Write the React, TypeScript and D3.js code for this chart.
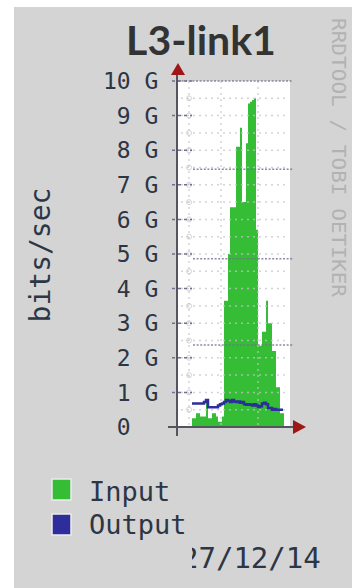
import React from "react";
import * as d3 from "d3";

// ---- data (Gbit/s per sample) ----
const firstSample = 7;
const inputG = [
  0.25, 0.25, 0.4, 0.4, 0.3, 0.3, 0.3, 0.7, 0.25, 0.25, 0.4, 0.4, 0.3, 0.15, 0.15, 0.3,
  3.65, 3.65, 5.0, 6.35, 6.35, 6.35, 8.1, 8.1, 8.65, 6.5, 6.5, 8.2, 9.35, 9.4, 9.45, 9.5,
  5.7, 2.35, 2.35, 2.75, 2.75, 3.65, 3.0, 3.0, 2.2, 2.2, 1.15, 1.15, 0.4, 0.4,
];
const outputG = [
  0.68, 0.68, 0.68, 0.68, 0.68, 0.68, 0.72, 0.78, 0.57, 0.57, 0.57, 0.57, 0.57,
  0.62, 0.66, 0.68, 0.72, 0.78, 0.76, 0.72, 0.78, 0.74, 0.72, 0.74, 0.7, 0.72, 0.66,
  0.64, 0.66, 0.64, 0.62, 0.66, 0.62, 0.58, 0.6, 0.68, 0.7, 0.66, 0.55, 0.55, 0.5,
  0.52, 0.5, 0.5, 0.5, 0.5,
];
const yTickValues = [0, 1, 2, 3, 4, 5, 6, 7, 8, 9, 10];
const yTickLabels = [" 0  ", " 1 G", " 2 G", " 3 G", " 4 G", " 5 G", " 6 G", " 7 G", " 8 G", " 9 G", "10 G"];
const minorGrid = d3.range(0.5, 10, 0.5);
const majorGrid = [2.37, 4.86, 7.45];
const timeGrid = [5.5, 21.5, 40];
const seriesNames = ["Input", "Output"];
const title = "L3-link1";
const yAxisTitle = "bits/sec";
const watermark = "RRDTOOL / TOBI OETIKER";
const dateLabel = "27/12/14";

const GREEN = "#36bd36";
const BLUE = "#2d2d9b";
const RED = "#a01515";
const TEXT = "#2c3645";
const MONO = "'DejaVu Sans Mono', monospace";

export default function App() {
  const x = d3.scaleLinear().domain([0, 55]).range([178, 288]);
  const y = d3.scaleLinear().domain([0, 10]).range([427, 81]);

  const inPts: [number, number][] = inputG.map((v, i) => [firstSample + i, v]);
  inPts.push([firstSample + inputG.length, inputG[inputG.length - 1]]);
  const outPts: [number, number][] = outputG.map((v, i) => [firstSample + i, v]);
  outPts.push([firstSample + outputG.length - 0.5, outputG[outputG.length - 1]]);

  const area = d3
    .area<[number, number]>()
    .x((d) => x(d[0]))
    .y0(y(0))
    .y1((d) => y(d[1]))
    .curve(d3.curveStepAfter);
  const line = d3
    .line<[number, number]>()
    .x((d) => x(d[0]))
    .y((d) => y(d[1]))
    .curve(d3.curveStepAfter);

  const [x0, x1] = x.range();
  const yTop = y(10);
  const yBase = y(0);

  return (
    <svg
      width={352}
      height={588}
      style={{ position: "absolute", left: 0, top: 0 }}
    >
      <defs>
        <clipPath id="dateClip">
          <rect x={192} y={530} width={160} height={50} />
        </clipPath>
      </defs>
      <rect x={0} y={0} width={352} height={588} fill="#ffffff" />
      <rect x={14} y={7} width={338} height={581} fill="#d4d4d4" />

      {/* title */}
      <text
        x={201}
        y={55}
        textAnchor="middle"
        fontFamily="Lato, 'Open Sans', sans-serif"
        fontWeight="bold"
        fontSize={41}
        fill="#333333"
      >
        {title}
      </text>

      {/* plot area */}
      <rect x={x0} y={yTop} width={x1 - x0 + 2} height={yBase - yTop} fill="#ffffff" />

      {/* data */}
      <path d={area(inPts) || ""} fill={GREEN} />

      {/* minor grid */}
      {minorGrid.map((g) => (
        <line
          key={"mg" + g}
          x1={x0 + 3}
          x2={x1 + 1}
          y1={y(g)}
          y2={y(g)}
          stroke="#c4c4cc"
          strokeOpacity={0.75}
          strokeWidth={1.5}
          strokeDasharray="2,4"
        />
      ))}
      {timeGrid.map((t) => (
        <line
          key={"tg" + t}
          x1={x(t)}
          x2={x(t)}
          y1={yTop}
          y2={yBase}
          stroke="#c4c4cc"
          strokeOpacity={0.75}
          strokeWidth={1.5}
          strokeDasharray="2,4"
        />
      ))}
      {minorGrid.map((g) => (
        <circle
          key={"c" + g}
          cx={x(timeGrid[0])}
          cy={y(g)}
          r={2.5}
          fill="none"
          stroke="#c8c8d0"
          strokeOpacity={0.8}
          strokeWidth={1}
        />
      ))}
      {/* major grid */}
      {majorGrid.map((g) => (
        <line
          key={"Mg" + g}
          x1={193}
          x2={293}
          y1={y(g)}
          y2={y(g)}
          stroke="#6e6e90"
          strokeOpacity={0.8}
          strokeWidth={1.5}
          strokeDasharray="2,1.6"
        />
      ))}
      <line
        x1={x0}
        x2={293}
        y1={yTop}
        y2={yTop}
        stroke="#6e6e90"
        strokeOpacity={0.8}
        strokeWidth={1.5}
        strokeDasharray="2,1.6"
      />

      {/* output line */}
      <path d={line(outPts) || ""} fill="none" stroke={BLUE} strokeWidth={2.5} />

      {/* y ticks */}
      {yTickValues.map((v) => (
        <line
          key={"t" + v}
          x1={172}
          x2={192}
          y1={y(v)}
          y2={y(v)}
          stroke="#70708a"
          strokeWidth={1.5}
          strokeDasharray="3,3"
        />
      ))}

      {/* axes */}
      <line x1={177} x2={177} y1={70} y2={436} stroke="#555560" strokeWidth={2} />
      <line x1={168} x2={296} y1={yBase} y2={yBase} stroke="#555560" strokeWidth={2} />
      <path d="M171,75 L185,75 L178,63 Z" fill={RED} />
      <path d="M293,420 L293,434 L306,427 Z" fill={RED} />

      {/* y labels */}
      {yTickValues.map((v, i) => (
        <text
          key={"l" + v}
          x={103}
          y={y(v)}
          dy="0.36em"
          fontFamily={MONO}
          fontSize={23}
          fill={TEXT}
          style={{ whiteSpace: "pre" }}
        >
          {yTickLabels[i]}
        </text>
      ))}

      {/* y axis title */}
      <text
        transform="translate(50,255) rotate(-90)"
        textAnchor="middle"
        fontFamily={MONO}
        fontSize={28}
        fill={TEXT}
      >
        {yAxisTitle}
      </text>

      {/* watermark */}
      <text
        transform="translate(332,18) rotate(90)"
        fontFamily={MONO}
        fontSize={20}
        fill="#b2b2b2"
        textLength={279}
        lengthAdjust="spacingAndGlyphs"
        style={{ whiteSpace: "pre" }}
      >
        {watermark}
      </text>

      {/* legend */}
      <rect x={52} y={479} width={19} height={21} fill={GREEN} stroke="#ececec" strokeWidth={1.5} />
      <rect x={52} y={514} width={19} height={21} fill={BLUE} stroke="#ececec" strokeWidth={1.5} />
      <text x={89} y={501} fontFamily={MONO} fontSize={27} fill={TEXT}>
        {seriesNames[0]}
      </text>
      <text x={89} y={534} fontFamily={MONO} fontSize={27} fill={TEXT}>
        {seriesNames[1]}
      </text>

      {/* date (left part cut off as in the source image) */}
      <g clipPath="url(#dateClip)">
        <text x={181} y={568} fontFamily={MONO} fontSize={29} fill={TEXT}>
          {dateLabel}
        </text>
      </g>
    </svg>
  );
}
